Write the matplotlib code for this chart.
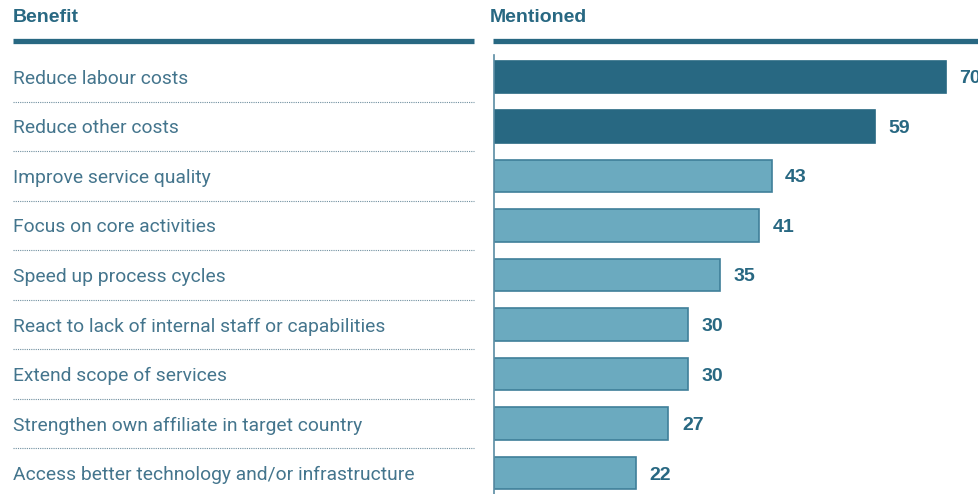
import matplotlib
matplotlib.use("Agg")
import matplotlib.pyplot as plt
from matplotlib.lines import Line2D

benefits = [
    "Reduce labour costs",
    "Reduce other costs",
    "Improve service quality",
    "Focus on core activities",
    "Speed up process cycles",
    "React to lack of internal staff or capabilities",
    "Extend scope of services",
    "Strengthen own affiliate in target country",
    "Access better technology and/or infrastructure",
]
mentioned = [70, 59, 43, 41, 35, 30, 30, 27, 22]
n_highlight = 2
header_left = "Benefit"
header_right = "Mentioned"

W, H = 979, 494
FONT = ['Liberation Sans', 'DejaVu Sans']
LFONT = ['Roboto', 'DejaVu Sans']
dark = "#286882"
light = "#6baabf"
light_edge = "#3f7f99"
label_col = "#44758d"

fig = plt.figure(figsize=(W / 100, H / 100), dpi=100)

top_px = 55
n = len(benefits)
ylim = (n - 1 + 0.424, -0.444)

ax = fig.add_axes([494 / W, 0, (W - 494) / W, (H - top_px) / H])
axl = fig.add_axes([0, 0, 476 / W, (H - top_px) / H])
for a in (ax, axl):
    a.set_ylim(*ylim)
    a.set_xticks([]); a.set_yticks([])
    for s in a.spines.values():
        s.set_visible(False)
    a.patch.set_alpha(0)

ax.set_xlim(0, (W - 494) / 6.457)
ypos = list(range(n))
colors = [dark if i < n_highlight else light for i in range(n)]
edges = [dark if i < n_highlight else light_edge for i in range(n)]
ax.barh(ypos, mentioned, height=0.65, color=colors, edgecolor=edges, linewidth=1.2)
ax.spines['left'].set_visible(True)
ax.spines['left'].set_color("#5a8ca3")
ax.spines['left'].set_linewidth(1.2)
for y, v in zip(ypos, mentioned):
    ax.text(v + 2.1, y, str(v), va='center_baseline', ha='left', fontsize=14,
            fontweight='bold', color=dark, family=FONT, clip_on=False)

axl.set_xlim(0, 476)
for y, lab in zip(ypos, benefits):
    axl.text(13, y, lab, va='center_baseline', ha='left', fontsize=13.9,
             color=label_col, family=LFONT)
for y in ypos[:-1]:
    axl.plot([13, 474], [y + 0.5, y + 0.5], ls=(0, (1, 1)), lw=0.8,
             color="#6f8f9f")

yl = 1 - 41 / H
fig.add_artist(Line2D([13 / W, 474 / W], [yl, yl], lw=3.8, color=dark,
                      solid_capstyle='butt'))
fig.add_artist(Line2D([493 / W, 1], [yl, yl], lw=3.8, color=dark,
                      solid_capstyle='butt'))
fig.text(13 / W, 1 - 17 / H, header_left, fontsize=14, fontweight='bold',
         color=dark, family=FONT, va='center', ha='left')
fig.text(490 / W, 1 - 17 / H, header_right, fontsize=14, fontweight='bold',
         color=dark, family=FONT, va='center', ha='left')

fig.savefig("out.png", dpi=100, facecolor="white")
